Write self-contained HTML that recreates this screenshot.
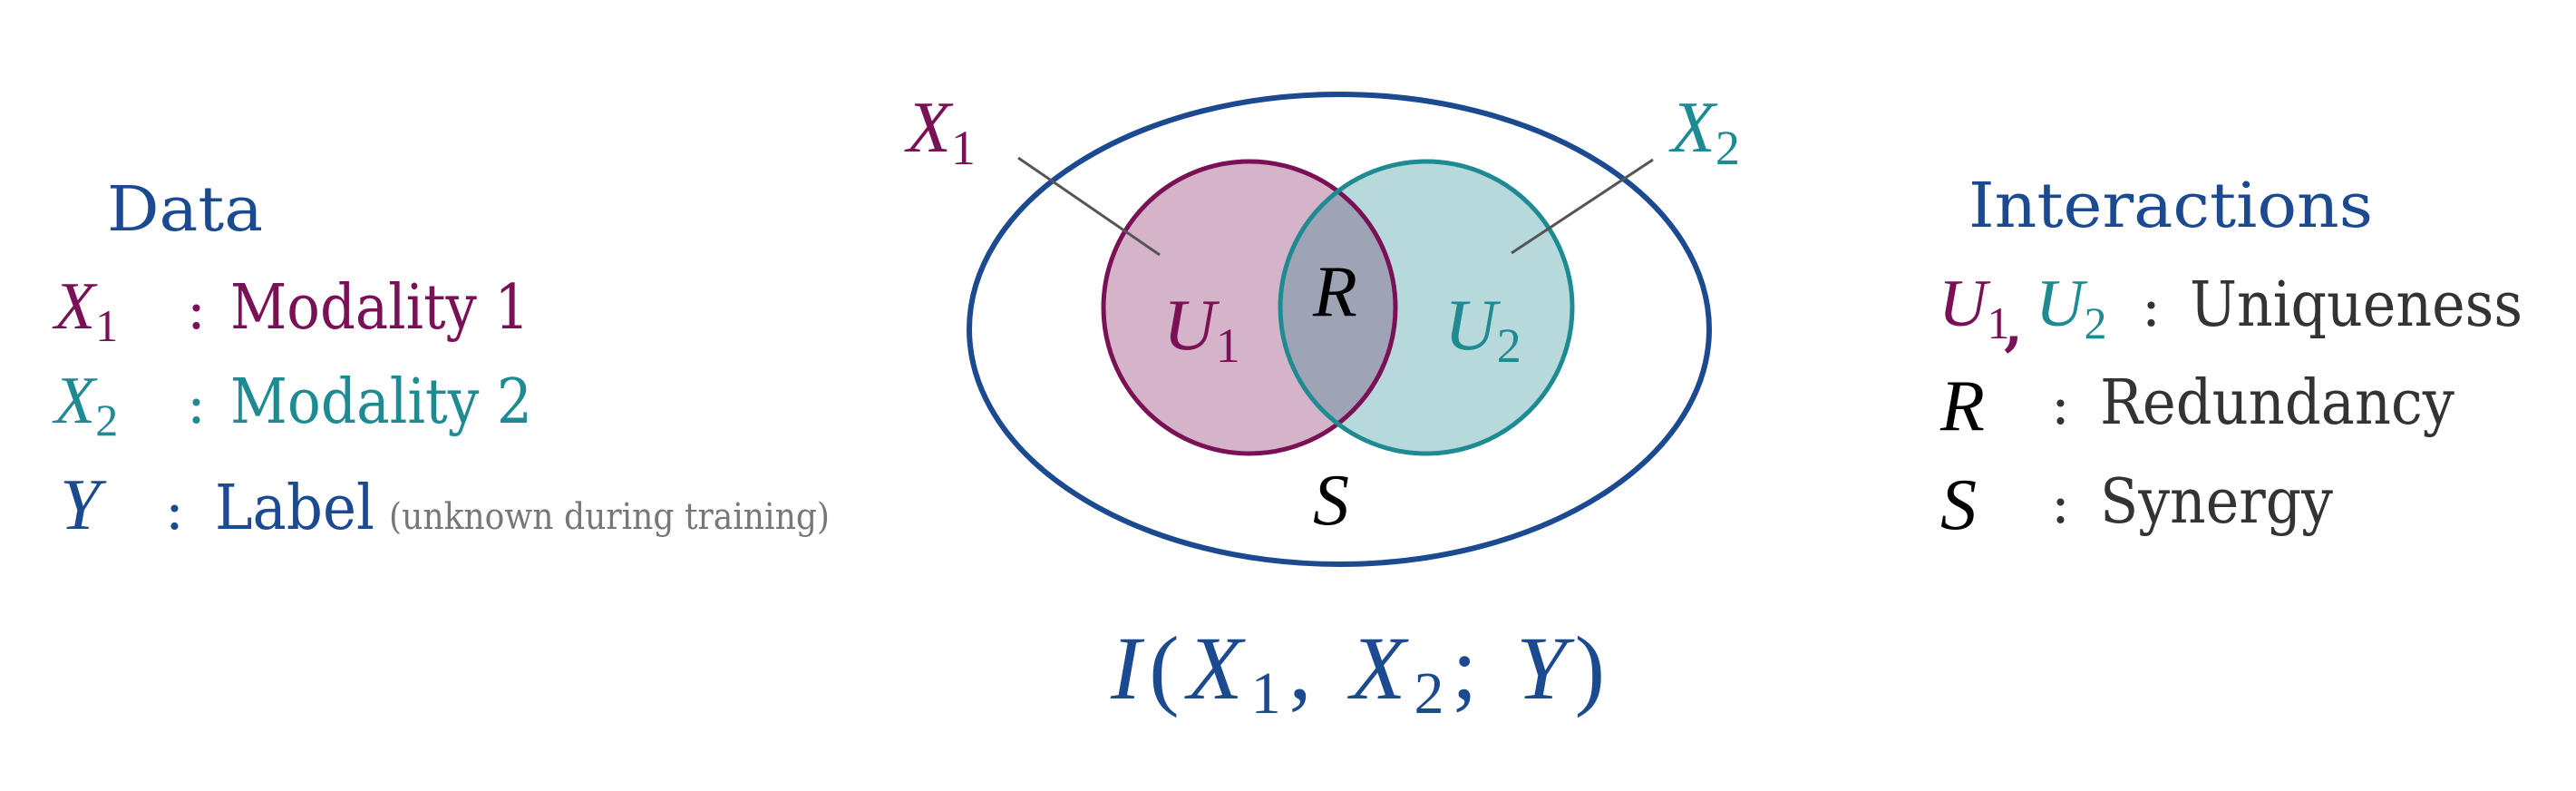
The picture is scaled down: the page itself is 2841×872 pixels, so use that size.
<!DOCTYPE html>
<html><head><meta charset="utf-8"><style>html,body{margin:0;padding:0;background:#fff}svg{display:block}</style></head>
<body>
<svg width="2841" height="872" viewBox="0 0 2841 872" xmlns="http://www.w3.org/2000/svg">
<defs><clipPath id="clipL"><ellipse cx="1378" cy="339" rx="161" ry="161"/></clipPath></defs>
<g font-family="'DejaVu Serif','Liberation Serif',serif">
<!-- Left legend -->
<text x="118" y="254" font-size="68" fill="#1b4a91" textLength="172" lengthAdjust="spacingAndGlyphs">Data</text>
<g>
<text x="60" y="362" font-family="'Liberation Serif',serif" font-style="italic" font-size="74" fill="#7a1157">X<tspan font-style="normal" font-size="50" dy="14">1</tspan></text>
<text x="206" y="362" font-size="62" fill="#7a1157">:</text>
<text x="254" y="362" font-size="68" fill="#7a1157" textLength="330" lengthAdjust="spacingAndGlyphs">Modality 1</text>
</g>
<g>
<text x="60" y="466" font-family="'Liberation Serif',serif" font-style="italic" font-size="74" fill="#1e8a92">X<tspan font-style="normal" font-size="50" dy="14">2</tspan></text>
<text x="206" y="466" font-size="62" fill="#1e8a92">:</text>
<text x="254" y="466" font-size="68" fill="#1e8a92" textLength="333" lengthAdjust="spacingAndGlyphs">Modality 2</text>
</g>
<g>
<text x="66" y="583" font-family="'Liberation Serif',serif" font-style="italic" font-size="80" fill="#1b4a91">Y</text>
<text x="182" y="583" font-size="62" fill="#1b4a91">:</text>
<text x="237" y="583" font-size="68" fill="#1b4a91" textLength="176" lengthAdjust="spacingAndGlyphs">Label</text>
<text x="429" y="583" font-size="40" fill="#777" textLength="486" lengthAdjust="spacingAndGlyphs">(unknown during training)</text>
</g>
<!-- Venn -->
<ellipse cx="1477" cy="363" rx="408" ry="259" fill="none" stroke="#1b4a91" stroke-width="6"/>
<ellipse cx="1378" cy="339" rx="161" ry="161" fill="#d5b4c9"/>
<ellipse cx="1573" cy="339" rx="161" ry="161" fill="#b8d9dc"/>
<ellipse cx="1573" cy="339" rx="161" ry="161" fill="#9ea3b5" clip-path="url(#clipL)"/>
<ellipse cx="1378" cy="339" rx="161" ry="161" fill="none" stroke="#7a1157" stroke-width="5"/>
<ellipse cx="1573" cy="339" rx="161" ry="161" fill="none" stroke="#1e8a92" stroke-width="5"/>
<line x1="1123" y1="174" x2="1279" y2="281" stroke="#555" stroke-width="3"/>
<line x1="1823" y1="176" x2="1667" y2="279" stroke="#555" stroke-width="3"/>
<g font-family="'Liberation Serif',serif" font-style="italic">
<text x="1000" y="167" font-size="80" fill="#7a1157">X<tspan font-style="normal" font-size="54" dy="14">1</tspan></text>
<text x="1843" y="167" font-size="80" fill="#1e8a92">X<tspan font-style="normal" font-size="54" dy="14">2</tspan></text>
<text x="1283" y="385" font-size="80" fill="#7a1157">U<tspan font-style="normal" font-size="54" dy="14">1</tspan></text>
<text x="1593" y="385" font-size="80" fill="#1e8a92">U<tspan font-style="normal" font-size="54" dy="14">2</tspan></text>
<text x="1448" y="348" font-size="80" fill="#000">R</text>
<text x="1448" y="578" font-size="80" fill="#000">S</text>
<text x="1225" y="770" font-size="100" fill="#1b4a91" textLength="545" lengthAdjust="spacing">I<tspan font-style="normal">(</tspan>X<tspan font-style="normal" font-size="66" dy="16">1</tspan><tspan font-style="normal" dy="-16">, </tspan>X<tspan font-style="normal" font-size="66" dy="16">2</tspan><tspan font-style="normal" dy="-16">; </tspan>Y<tspan font-style="normal">)</tspan></text>
</g>
<!-- Right legend -->
<text x="2171" y="250" font-size="68" fill="#1b4a91" textLength="446" lengthAdjust="spacingAndGlyphs">Interactions</text>
<g>
<text x="2138" y="359" font-family="'Liberation Serif',serif" font-style="italic" font-size="74" fill="#7a1157">U<tspan font-style="normal" font-size="50" dy="14">1</tspan></text>
<text x="2210" y="380" font-size="60" font-weight="bold" fill="#7a1157">,</text>
<text x="2245" y="359" font-family="'Liberation Serif',serif" font-style="italic" font-size="74" fill="#1e8a92">U<tspan font-style="normal" font-size="50" dy="14">2</tspan></text>
<text x="2362" y="359" font-size="62" fill="#333">:</text>
<text x="2415" y="359" font-size="68" fill="#333" textLength="367" lengthAdjust="spacingAndGlyphs">Uniqueness</text>
</g>
<g>
<text x="2140" y="474" font-family="'Liberation Serif',serif" font-style="italic" font-size="80" fill="#000">R</text>
<text x="2262" y="467" font-size="62" fill="#333">:</text>
<text x="2316" y="467" font-size="68" fill="#333" textLength="391" lengthAdjust="spacingAndGlyphs">Redundancy</text>
</g>
<g>
<text x="2140" y="583" font-family="'Liberation Serif',serif" font-style="italic" font-size="80" fill="#000">S</text>
<text x="2262" y="576" font-size="62" fill="#333">:</text>
<text x="2316" y="576" font-size="68" fill="#333" textLength="257" lengthAdjust="spacingAndGlyphs">Synergy</text>
</g>
</g>
</svg>
</body></html>
